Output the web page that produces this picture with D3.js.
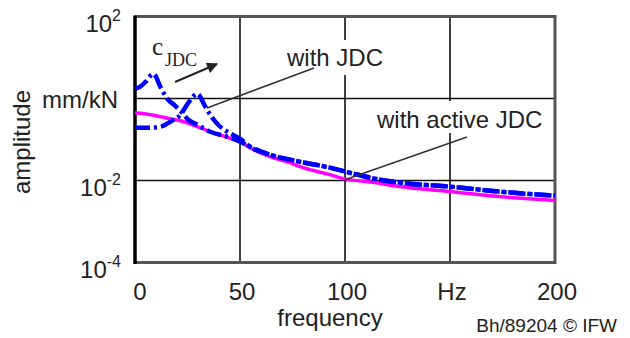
<!DOCTYPE html>
<html>
<head>
<meta charset="utf-8">
<script src="https://cdn.jsdelivr.net/npm/d3@7"></script>
<style>
body { margin: 0; background: #fff; }
text { font-family: "Liberation Sans", Arial, sans-serif; fill: #222; }
</style>
</head>
<body>
<svg id="chart" width="630" height="338"></svg>
<script>
// frequency (Hz) / amplitude (mm/kN)
const freqLow = [0, 2.5, 5, 8.8, 12.1, 15.4, 19.2, 22.5, 25.4, 29.7, 35.8, 43.9, 50.1, 54.8, 64.3, 73.8, 83.3, 92.8, 102.2, 114.1, 126, 149.7, 173.4, 200]
const ampLow = [1.72, 1.95, 2.55, 3.99, 1.93, 0.98, 0.664, 0.449, 0.303, 0.229, 0.155, 0.117, 0.0883, 0.0667, 0.0426, 0.0322, 0.0257, 0.0206, 0.0155, 0.0111, 0.00888, 0.0071, 0.00536, 0.00428]

const freqJdc = [0, 7.4, 12.1, 16.8, 21.6, 25.4, 29.7, 33.5, 36.8, 39.6, 43.9, 50.1, 54.8, 64.3, 73.8, 83.3, 92.8, 102.2, 114.1, 126, 149.7, 173.4, 200]
const ampJdc = [0.194, 0.194, 0.205, 0.271, 0.401, 0.785, 1.3, 0.628, 0.339, 0.229, 0.155, 0.104, 0.0667, 0.0426, 0.0322, 0.0257, 0.0206, 0.0155, 0.0111, 0.00888, 0.0071, 0.00536, 0.00428]

const freqActive = [0, 7.4, 14.5, 21.6, 28.7, 35.8, 42.9, 50.1, 54.8, 64.3, 73.8, 78.5, 83.3, 92.8, 99.4, 114.1, 126, 149.7, 173.4, 200]
const ampActive = [0.449, 0.401, 0.339, 0.286, 0.216, 0.155, 0.117, 0.0883, 0.0631, 0.0381, 0.0272, 0.0217, 0.0184, 0.0139, 0.0111, 0.00888, 0.0071, 0.00536, 0.00405, 0.00324]

const xTickValues = [0, 50, 100, 150, 200]
const xTickLabels = ['0', '50', '100', 'Hz', '200']
const yTickExp = [2, -2, -4]

const svg = d3.select('#chart')
const x = d3.scaleLinear().domain([0, 200]).range([135, 555])
const y = d3.scaleLog().domain([1e-4, 1e2]).range([262.5, 16.5])

// grid
svg.append('g')
    .selectAll('line')
    .data([50, 100, 150])
    .join('line')
    .attr('x1', d => x(d)).attr('x2', d => x(d))
    .attr('y1', y(1e2)).attr('y2', y(1e-4))
    .attr('stroke', '#111').attr('stroke-width', 1.6)

svg.append('g')
    .selectAll('line')
    .data([1, 1e-2])
    .join('line')
    .attr('x1', x(0)).attr('x2', x(200))
    .attr('y1', d => y(d)).attr('y2', d => y(d))
    .attr('stroke', '#111').attr('stroke-width', 1.6)

// frame
svg.append('path')
    .attr('d', `M${x(0)},${y(1e2)}H${x(200)}V${y(1e-4)}H${x(0)}`)
    .attr('fill', 'none').attr('stroke', '#555').attr('stroke-width', 3)
svg.append('line')
    .attr('x1', x(0)).attr('x2', x(0))
    .attr('y1', y(1e2) - 1).attr('y2', y(1e-4) + 1.5)
    .attr('stroke', '#000').attr('stroke-width', 3.5)

// curves
const line = d3.line()
    .curve(d3.curveMonotoneX)
    .x(d => x(d[0]))
    .y(d => y(d[1]))

svg.append('path')
    .datum(d3.zip(freqActive, ampActive))
    .attr('fill', 'none').attr('stroke', '#ff00ff').attr('stroke-width', 3.5)
    .attr('d', line)

const blue = [d3.zip(freqLow, ampLow), d3.zip(freqJdc, ampJdc)]
svg.append('g')
    .selectAll('path')
    .data(blue)
    .join('path')
    .attr('fill', 'none').attr('stroke', '#0000ff').attr('stroke-width', 4.5)
    .attr('stroke-dasharray', '15,4,3,4')
    .attr('d', line)

// tick labels
const yLab = svg.append('g')
    .selectAll('text')
    .data(yTickExp)
    .join('text')
    .attr('x', 121)
    .attr('y', d => y(Math.pow(10, d)) + 15)
    .attr('text-anchor', 'end')
    .style('font-size', '24px')
yLab.append('tspan').text('10')
yLab.append('tspan').attr('dy', -11).style('font-size', '16px').text(d => d < 0 ? '-' + (-d) : d)

svg.append('text')
    .attr('x', 118).attr('y', y(1) + 9)
    .attr('text-anchor', 'end')
    .style('font-size', '24px')
    .text('mm/kN')

svg.append('g')
    .selectAll('text')
    .data(xTickValues)
    .join('text')
    .attr('x', (d, i) => x(d) + (i === 0 ? 5 : 2))
    .attr('y', 300)
    .attr('text-anchor', 'middle')
    .style('font-size', '24px')
    .text((d, i) => xTickLabels[i])

svg.append('text')
    .attr('x', 330).attr('y', 326)
    .attr('text-anchor', 'middle')
    .style('font-size', '24px')
    .text('frequency')

svg.append('text')
    .attr('transform', 'translate(30,142) rotate(-90)')
    .attr('text-anchor', 'middle')
    .style('font-size', '24px')
    .text('amplitude')

svg.append('text')
    .attr('x', 617).attr('y', 332)
    .attr('text-anchor', 'end')
    .style('font-size', '19px')
    .text('Bh/89204 \u00a9 IFW')

// annotations
svg.append('defs').append('marker')
    .attr('id', 'head')
    .attr('viewBox', '0 0 10 10')
    .attr('refX', 9).attr('refY', 5)
    .attr('markerWidth', 13).attr('markerHeight', 11)
    .attr('markerUnits', 'userSpaceOnUse')
    .attr('orient', 'auto')
    .append('path').attr('d', 'M0,0L10,5L0,10Z').attr('fill', '#222')

svg.append('line')
    .attr('x1', 175).attr('y1', 82).attr('x2', 217).attr('y2', 64)
    .attr('stroke', '#222').attr('stroke-width', 2)
    .attr('marker-end', 'url(#head)')

const cj = svg.append('text')
    .attr('x', 152).attr('y', 55)
    .style('font-family', '"Liberation Serif", "Times New Roman", serif')
    .style('font-size', '25px')
cj.append('tspan').text('c')
cj.append('tspan').attr('dy', 11).attr('dx', 2).style('font-size', '18px').text('JDC')

svg.append('rect')
    .attr('x', 285).attr('y', 40).attr('width', 104).attr('height', 35)
    .attr('fill', '#fff')
svg.append('text')
    .attr('x', 287).attr('y', 66)
    .style('font-size', '24px')
    .text('with JDC')
svg.append('line')
    .attr('x1', 314).attr('y1', 68).attr('x2', 207).attr('y2', 108)
    .attr('stroke', '#333').attr('stroke-width', 1.6)

svg.append('rect')
    .attr('x', 375).attr('y', 101).attr('width', 176).attr('height', 32)
    .attr('fill', '#fff')
svg.append('text')
    .attr('x', 377).attr('y', 128)
    .style('font-size', '24px')
    .text('with active JDC')
svg.append('line')
    .attr('x1', 467).attr('y1', 137).attr('x2', x(100)).attr('y2', y(0.0105))
    .attr('stroke', '#333').attr('stroke-width', 1.6)
</script>
</body>
</html>
